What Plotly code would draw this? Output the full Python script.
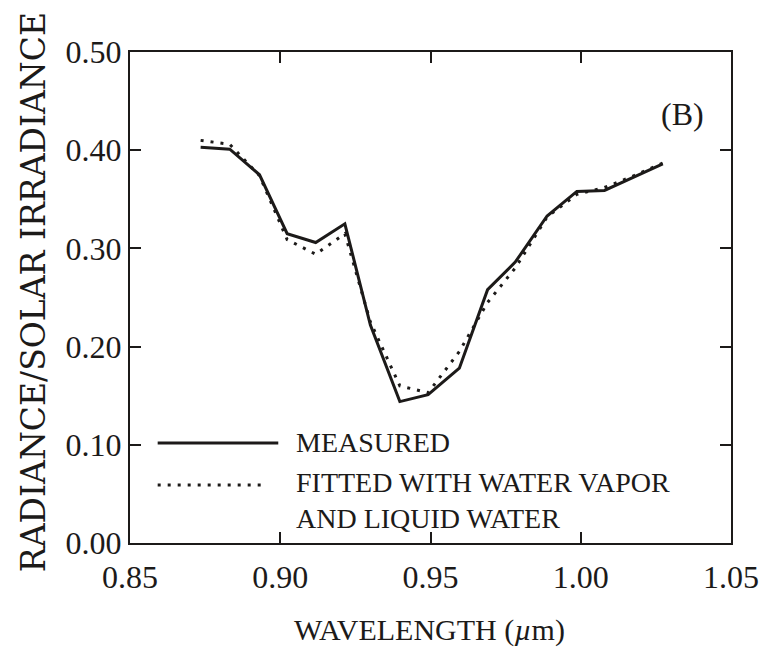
import plotly.graph_objects as go

# Wavelength (µm) and ratio values
wl_measured = [0.8735, 0.8832, 0.8931, 0.9023, 0.9118, 0.9215, 0.9300, 0.9398, 0.9492,
               0.9596, 0.9690, 0.9782, 0.9888, 0.9987, 1.0079, 1.0185, 1.0273]
measured = [0.403, 0.401, 0.375, 0.315, 0.306, 0.325, 0.222, 0.144, 0.151,
            0.178, 0.258, 0.286, 0.333, 0.358, 0.359, 0.374, 0.386]

wl_fitted = wl_measured
fitted = [0.410, 0.406, 0.374, 0.309, 0.294, 0.315, 0.225, 0.160, 0.153,
          0.195, 0.245, 0.280, 0.332, 0.355, 0.362, 0.375, 0.387]

x_ticks = [0.85, 0.90, 0.95, 1.00, 1.05]
x_ticktext = ["0.85", "0.90", "0.95", "1.00", "1.05"]
y_ticks = [0.0, 0.1, 0.2, 0.3, 0.4, 0.5]
y_ticktext = ["0.00", "0.10", "0.20", "0.30", "0.40", "0.50"]

legend_labels = ["MEASURED", "FITTED WITH WATER VAPOR<br>AND LIQUID WATER"]
panel_label = "(B)"
x_title = "WAVELENGTH (<i>µ</i>m)"
y_title = "RADIANCE/SOLAR IRRADIANCE"

INK = "#1c1a19"
SERIF = "Liberation Serif, Times New Roman, serif"

fig = go.Figure()
fig.add_trace(go.Scatter(x=wl_measured, y=measured, mode="lines",
                         line=dict(color=INK, width=3), showlegend=False))
fig.add_trace(go.Scatter(x=wl_fitted, y=fitted, mode="lines",
                         line=dict(color=INK, width=3, dash="3px,7px"), showlegend=False))

W, H = 771, 650
L, R, T, B = 130, 33, 52, 107
pw, ph = W - L - R, H - T - B

def px2paper(px, py):
    return (px - L) / pw, (H - B - py) / ph

# legend drawn by hand
x0, y0 = px2paper(158, 443)
x1, _ = px2paper(280, 443)
fig.add_shape(type="line", xref="paper", yref="paper", x0=x0, x1=x1, y0=y0, y1=y0,
              line=dict(color=INK, width=3))
x0, y0 = px2paper(158, 485)
x1, _ = px2paper(268, 485)
fig.add_shape(type="line", xref="paper", yref="paper", x0=x0, x1=x1, y0=y0, y1=y0,
              line=dict(color=INK, width=3, dash="3px,7px"))

tx, ty = px2paper(296, 442)
fig.add_annotation(xref="paper", yref="paper", x=tx, y=ty, xanchor="left", yanchor="middle",
                   text=legend_labels[0], showarrow=False, align="left",
                   font=dict(family=SERIF, size=28, color=INK))
tx, ty = px2paper(296, 500)
fig.add_annotation(xref="paper", yref="paper", x=tx, y=ty, xanchor="left", yanchor="middle",
                   text=legend_labels[1], showarrow=False, align="left",
                   font=dict(family=SERIF, size=28, color=INK))

bx, by = px2paper(689, 114)
fig.add_annotation(xref="paper", yref="paper", x=bx, y=by, xanchor="center", yanchor="middle",
                   text=panel_label, showarrow=False,
                   font=dict(family=SERIF, size=32, color=INK))

ax_, ay_ = px2paper(433, 630)
fig.add_annotation(xref="paper", yref="paper", x=ax_, y=ay_, xanchor="center", yanchor="middle",
                   text=x_title, showarrow=False,
                   font=dict(family=SERIF, size=30, color=INK))
ax_, ay_ = px2paper(32, 292)
fig.add_annotation(xref="paper", yref="paper", x=ax_, y=ay_, xanchor="center", yanchor="middle",
                   text=y_title, showarrow=False, textangle=-90,
                   font=dict(family="DejaVu Serif, serif", size=33, color=INK))

axis_common = dict(showline=True, linecolor=INK, linewidth=2, mirror="allticks",
                   ticks="inside", ticklen=11, tickwidth=2, tickcolor=INK,
                   showgrid=False, zeroline=False,
                   tickfont=dict(family=SERIF, size=32, color=INK))

fig.update_xaxes(range=[0.85, 1.05], tickvals=x_ticks, ticktext=x_ticktext,
                 ticklabelstandoff=5, **axis_common)
fig.update_yaxes(range=[0.0, 0.5], tickvals=y_ticks, ticktext=y_ticktext, **axis_common)

fig.update_layout(width=W, height=H, margin=dict(l=L, r=R, t=T, b=B),
                  paper_bgcolor="white", plot_bgcolor="white")

fig.write_html("out.html")
